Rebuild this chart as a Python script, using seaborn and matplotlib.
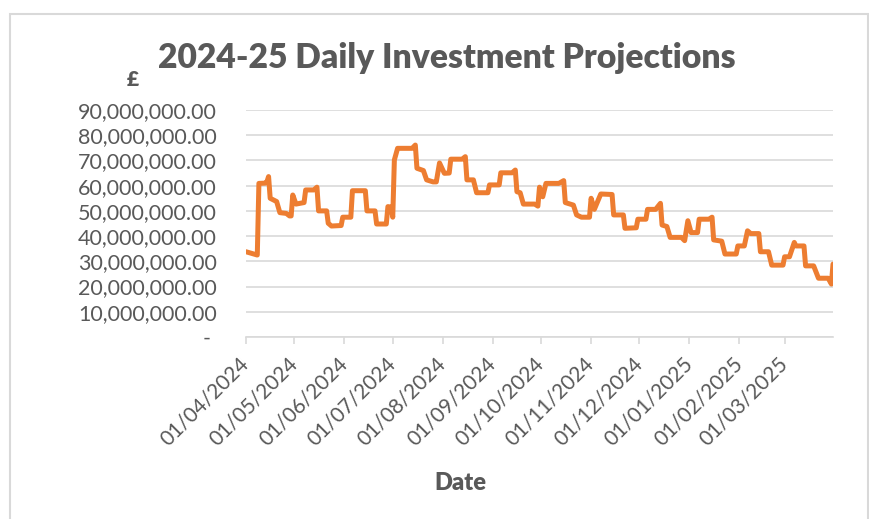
import pandas as pd
import matplotlib.pyplot as plt
import matplotlib.dates as mdates
from matplotlib.ticker import FuncFormatter, MultipleLocator
from matplotlib.patches import Rectangle
import seaborn as sns

# step points (daily series, only the change points)
dates = [
    "2024-04-01", "2024-04-08", "2024-04-09", "2024-04-13", "2024-04-14", "2024-04-15",
    "2024-04-16", "2024-04-20", "2024-04-22", "2024-04-26", "2024-04-28", "2024-04-29",
    "2024-04-30", "2024-05-02", "2024-05-07", "2024-05-08", "2024-05-13", "2024-05-15",
    "2024-05-16", "2024-05-21", "2024-05-22", "2024-05-24", "2024-05-30", "2024-05-31",
    "2024-06-05", "2024-06-06", "2024-06-14", "2024-06-15", "2024-06-20", "2024-06-21",
    "2024-06-27", "2024-06-28", "2024-06-30", "2024-07-01", "2024-07-02", "2024-07-04",
    "2024-07-13", "2024-07-15", "2024-07-16", "2024-07-20", "2024-07-22", "2024-07-26",
    "2024-07-28", "2024-07-30", "2024-08-02", "2024-08-05", "2024-08-06", "2024-08-13",
    "2024-08-15", "2024-08-16", "2024-08-20", "2024-08-22", "2024-08-29", "2024-08-30",
    "2024-09-05", "2024-09-06", "2024-09-13", "2024-09-15", "2024-09-16", "2024-09-18",
    "2024-09-20", "2024-09-27", "2024-09-29", "2024-09-30", "2024-10-02", "2024-10-04",
    "2024-10-12", "2024-10-15", "2024-10-16", "2024-10-21", "2024-10-23", "2024-10-26",
    "2024-10-31", "2024-11-01", "2024-11-03", "2024-11-07", "2024-11-14", "2024-11-15",
    "2024-11-21", "2024-11-22", "2024-11-29", "2024-11-30", "2024-12-05", "2024-12-06",
    "2024-12-11", "2024-12-14", "2024-12-15", "2024-12-18", "2024-12-20", "2024-12-27",
    "2024-12-29", "2024-12-31", "2025-01-02", "2025-01-06", "2025-01-07", "2025-01-13",
    "2025-01-15", "2025-01-16", "2025-01-21", "2025-01-23", "2025-01-30", "2025-01-31",
    "2025-02-04", "2025-02-06", "2025-02-08", "2025-02-13", "2025-02-14", "2025-02-19",
    "2025-02-21", "2025-02-28", "2025-03-01", "2025-03-04", "2025-03-07", "2025-03-08",
    "2025-03-13", "2025-03-14", "2025-03-19", "2025-03-22", "2025-03-28", "2025-03-30",
    "2025-03-31",
]
investment_m = [
    33.8, 32.5, 60.9, 61.0, 61.6, 63.6,
    55.0, 53.7, 49.3, 49.0, 48.0, 48.0,
    56.3, 52.7, 53.3, 58.3, 58.3, 59.4,
    50.0, 50.0, 45.1, 44.0, 44.2, 47.5,
    47.5, 58.0, 58.0, 50.0, 50.0, 44.8,
    44.8, 51.7, 51.5, 47.5, 70.2, 74.8,
    74.8, 76.1, 66.9, 66.0, 62.3, 61.5,
    61.5, 69.0, 64.9, 65.0, 70.5, 70.5,
    71.5, 62.3, 62.3, 57.2, 57.2, 60.3,
    60.3, 65.1, 65.1, 66.2, 57.6, 57.2,
    52.7, 52.7, 51.9, 59.4, 55.6, 60.9,
    60.9, 62.0, 53.3, 52.3, 48.4, 47.5,
    47.5, 55.0, 50.6, 56.7, 56.5, 48.4,
    48.4, 43.1, 43.3, 46.7, 46.7, 50.6,
    50.6, 53.0, 44.4, 43.8, 39.5, 39.5,
    38.2, 46.1, 41.4, 41.4, 46.7, 46.7,
    47.5, 38.5, 38.0, 32.9, 32.9, 36.1,
    36.1, 42.1, 41.0, 41.0, 33.8, 33.8,
    28.5, 28.5, 31.8, 31.8, 37.5, 36.1,
    36.1, 28.2, 28.2, 23.3, 23.3, 21.0,
    28.9,
]

df = pd.DataFrame({"Date": pd.to_datetime(dates),
                   "Investment": [v * 1e6 for v in investment_m]})

sns.set_theme(style="white")
plt.rcParams["font.family"] = ["Lato", "DejaVu Sans"]
text_col = "#595959"
grid_col = "#d9d9d9"

W, H = 869, 519
fig = plt.figure(figsize=(W / 100, H / 100), dpi=100)
ax = fig.add_axes([246 / W, 1 - 337 / H, (833 - 246) / W, (337 - 110) / H])

sns.lineplot(data=df, x="Date", y="Investment", color="#ED7D31", linewidth=3.6, ax=ax)
ax.lines[0].set_solid_joinstyle("round")

ax.set_xlim(pd.Timestamp("2024-04-01"), pd.Timestamp("2025-03-31"))
ax.set_ylim(0, 90e6)
ax.yaxis.set_major_locator(MultipleLocator(10e6))
ax.yaxis.set_major_formatter(FuncFormatter(lambda v, p: "- " if v == 0 else f"{v:,.2f}"))
ax.xaxis.set_major_locator(mdates.MonthLocator(bymonthday=1))
ax.xaxis.set_major_formatter(mdates.DateFormatter("%d/%m/%Y"))

ax.grid(axis="y", color=grid_col, linewidth=1.2)
ax.set_axisbelow(True)
for s in ["left", "top", "right"]:
    ax.spines[s].set_visible(False)
ax.spines["bottom"].set_color(grid_col)
ax.spines["bottom"].set_linewidth(1.2)

ax.tick_params(axis="y", length=0, pad=21, labelsize=15.5, labelcolor=text_col)
ax.tick_params(axis="x", length=5, width=1.2, color=grid_col, direction="out",
               pad=12, labelsize=15, labelcolor=text_col, bottom=True)
for lab in ax.get_xticklabels():
    lab.set_rotation(45)
    lab.set_ha("right")
    lab.set_va("center")
    lab.set_rotation_mode("anchor")

ax.set_xlabel("")
ax.set_ylabel("")

fig.text(447 / W, 1 - 68 / H, "2024-25 Daily Investment Projections", ha="center",
         va="baseline", fontsize=24.2, fontweight="heavy", color=text_col)
fig.text(133 / W, 1 - 86 / H, "£", ha="center", va="baseline", fontsize=15,
         fontweight="heavy", color=text_col)
fig.text(460 / W, 1 - 490 / H, "Date", ha="center", va="baseline", fontsize=17,
         fontweight="heavy", color=text_col)

fig.patches.append(Rectangle((10 / W, -0.05), 858 / W, 1.05 - 14 / H, transform=fig.transFigure,
                             fill=False, edgecolor=grid_col, linewidth=1.5))

fig.savefig("out.png", dpi=100)
